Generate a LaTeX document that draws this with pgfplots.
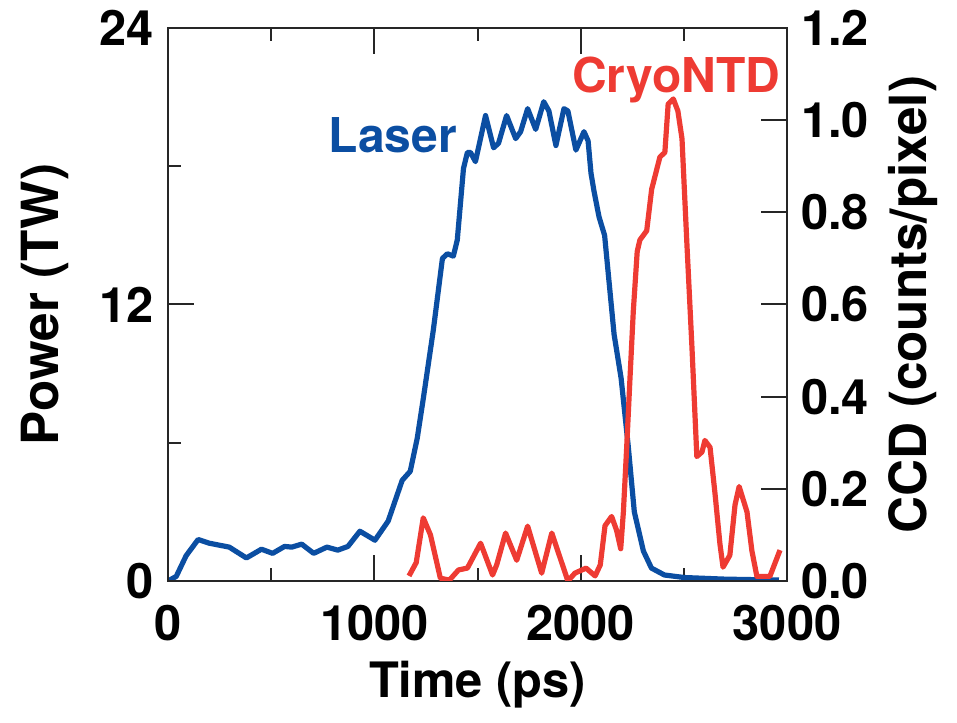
\documentclass[border=0pt]{standalone}
\usepackage{fontspec}
\setmainfont{TeX Gyre Heros}
\usepackage{pgfplots}
\pgfplotsset{compat=1.18}
\definecolor{laser}{RGB}{11,78,162}
\definecolor{cryo}{RGB}{238,59,51}
\begin{document}
\begin{tikzpicture}
\pgfplotsset{
  common/.style={
    scale only axis, width=154.75pt, height=138.25pt,
    xmin=0, xmax=3000,
    axis line style={line width=0.5pt, black!85},
    every tick/.style={line width=0.5pt, black!85},
    major tick length=6.5pt, minor tick length=3.3pt,
    tick align=inside,
    ticklabel style={font=\bfseries\fontsize{12.2}{14}\selectfont},
    /pgf/number format/assume math mode=true,
  }
}
\begin{axis}[common,
  ymin=0, ymax=24,
  xtick={0,1000,2000,3000}, minor xtick={500,1500,2500},
  xticklabels={0,1000,2000,3000},
  xticklabel style={yshift=-2.5pt},
  ytick={0,12,24}, minor ytick={6,18},
  yticklabels={0,12,24},
  ytick pos=left, xtick pos=both, xticklabel pos=bottom,
  xlabel={Time (ps)}, ylabel={Power (TW)},
  every axis x label/.style={at={([yshift=-26pt]rel axis cs:0.5,0)}, anchor=center, font=\bfseries\fontsize{12.2}{15}\selectfont},
  every axis y label/.style={at={([xshift=-30.75pt]rel axis cs:0,0.5)}, anchor=center, rotate=90, font=\bfseries\fontsize{12.8}{15}\selectfont},
]
\addplot[laser, line width=1.3pt, line join=round] coordinates {
(0,0) (40,0.2) (88,1.1) (146,1.8) (200,1.64) (297,1.47) (380,1.0) (453,1.38)
(507,1.2) (565,1.5) (600,1.47) (648,1.6) (706,1.2) (770,1.47) (823,1.34) (872,1.5)
(930,2.16) (1003,1.77) (1067,2.6) (1135,4.37) (1174,4.76) (1208,6.2) (1237,7.9)
(1286,10.9) (1330,14.0) (1354,14.2) (1383,14.1) (1402,14.8) (1432,17.9) (1451,18.6)
(1466,18.6) (1490,18.2) (1539,20.2) (1578,18.8) (1602,19.0) (1641,20.2) (1685,19.2)
(1709,19.5) (1743,20.5) (1782,19.6) (1821,20.8) (1846,20.4) (1880,18.9) (1919,20.5)
(1938,20.4) (1977,18.7) (2016,19.5) (2036,19.1) (2050,17.7) (2065,16.9) (2089,15.8)
(2116,15.0) (2162,10.7) (2196,8.8) (2230,5.9) (2260,3.0) (2304,1.3) (2343,0.56)
(2406,0.26) (2503,0.15) (2700,0.08) (2961,0.04)
};
\node[anchor=base west, text=laser, font=\bfseries\fontsize{12}{15}\selectfont, inner sep=0pt] at (axis cs:775,18.6) {Laser};
\coordinate (sw) at (rel axis cs:0,0);
\coordinate (ne) at (rel axis cs:1,1);
\end{axis}
\begin{axis}[common,
  ymin=0, ymax=1.2,
  xtick=\empty,
  ytick={0,0.2,0.4,0.6,0.8,1.0,1.2},
  yticklabels={0.0,0.2,0.4,0.6,0.8,1.0,1.2},
  ytick pos=right, yticklabel pos=right,
  ylabel={CCD (counts/pixel)},
  every axis y label/.style={at={([xshift=31.5pt]rel axis cs:1,0.5)}, anchor=center, rotate=90, font=\bfseries\fontsize{12.8}{15}\selectfont},
]
\addplot[cryo, line width=1.3pt, line join=round] coordinates {
(1168,0.011) (1203,0.04) (1237,0.137) (1272,0.10) (1320,0.006) (1364,0.002)
(1408,0.024) (1451,0.028) (1515,0.082) (1573,0.013) (1593,0.035) (1636,0.104)
(1690,0.045) (1743,0.119) (1811,0.017) (1860,0.104) (1938,0.0) (1972,0.017)
(2026,0.028) (2070,0.011) (2095,0.035) (2118,0.12) (2150,0.14) (2174,0.11)
(2194,0.07) (2207,0.15) (2223,0.29) (2239,0.44) (2255,0.585) (2274,0.715)
(2287,0.74) (2320,0.76) (2344,0.85) (2384,0.92) (2408,0.93) (2424,1.035)
(2449,1.046) (2471,1.02) (2491,0.96) (2515,0.73) (2539,0.51) (2553,0.37)
(2563,0.27) (2588,0.28) (2602,0.305) (2627,0.29) (2651,0.19) (2675,0.08)
(2690,0.03) (2723,0.056) (2748,0.165) (2768,0.205) (2806,0.15) (2830,0.065)
(2854,0.01) (2917,0.01) (2966,0.067)
};
\node[anchor=base west, text=cryo, font=\bfseries\fontsize{12}{15}\selectfont, inner sep=0pt] at (axis cs:1955,1.061) {CryoNTD};
\end{axis}
\pgfresetboundingbox
\path ([xshift=-42pt,yshift=-35.5pt]sw) rectangle ([xshift=42.5pt,yshift=7pt]ne);
\end{tikzpicture}
\end{document}
